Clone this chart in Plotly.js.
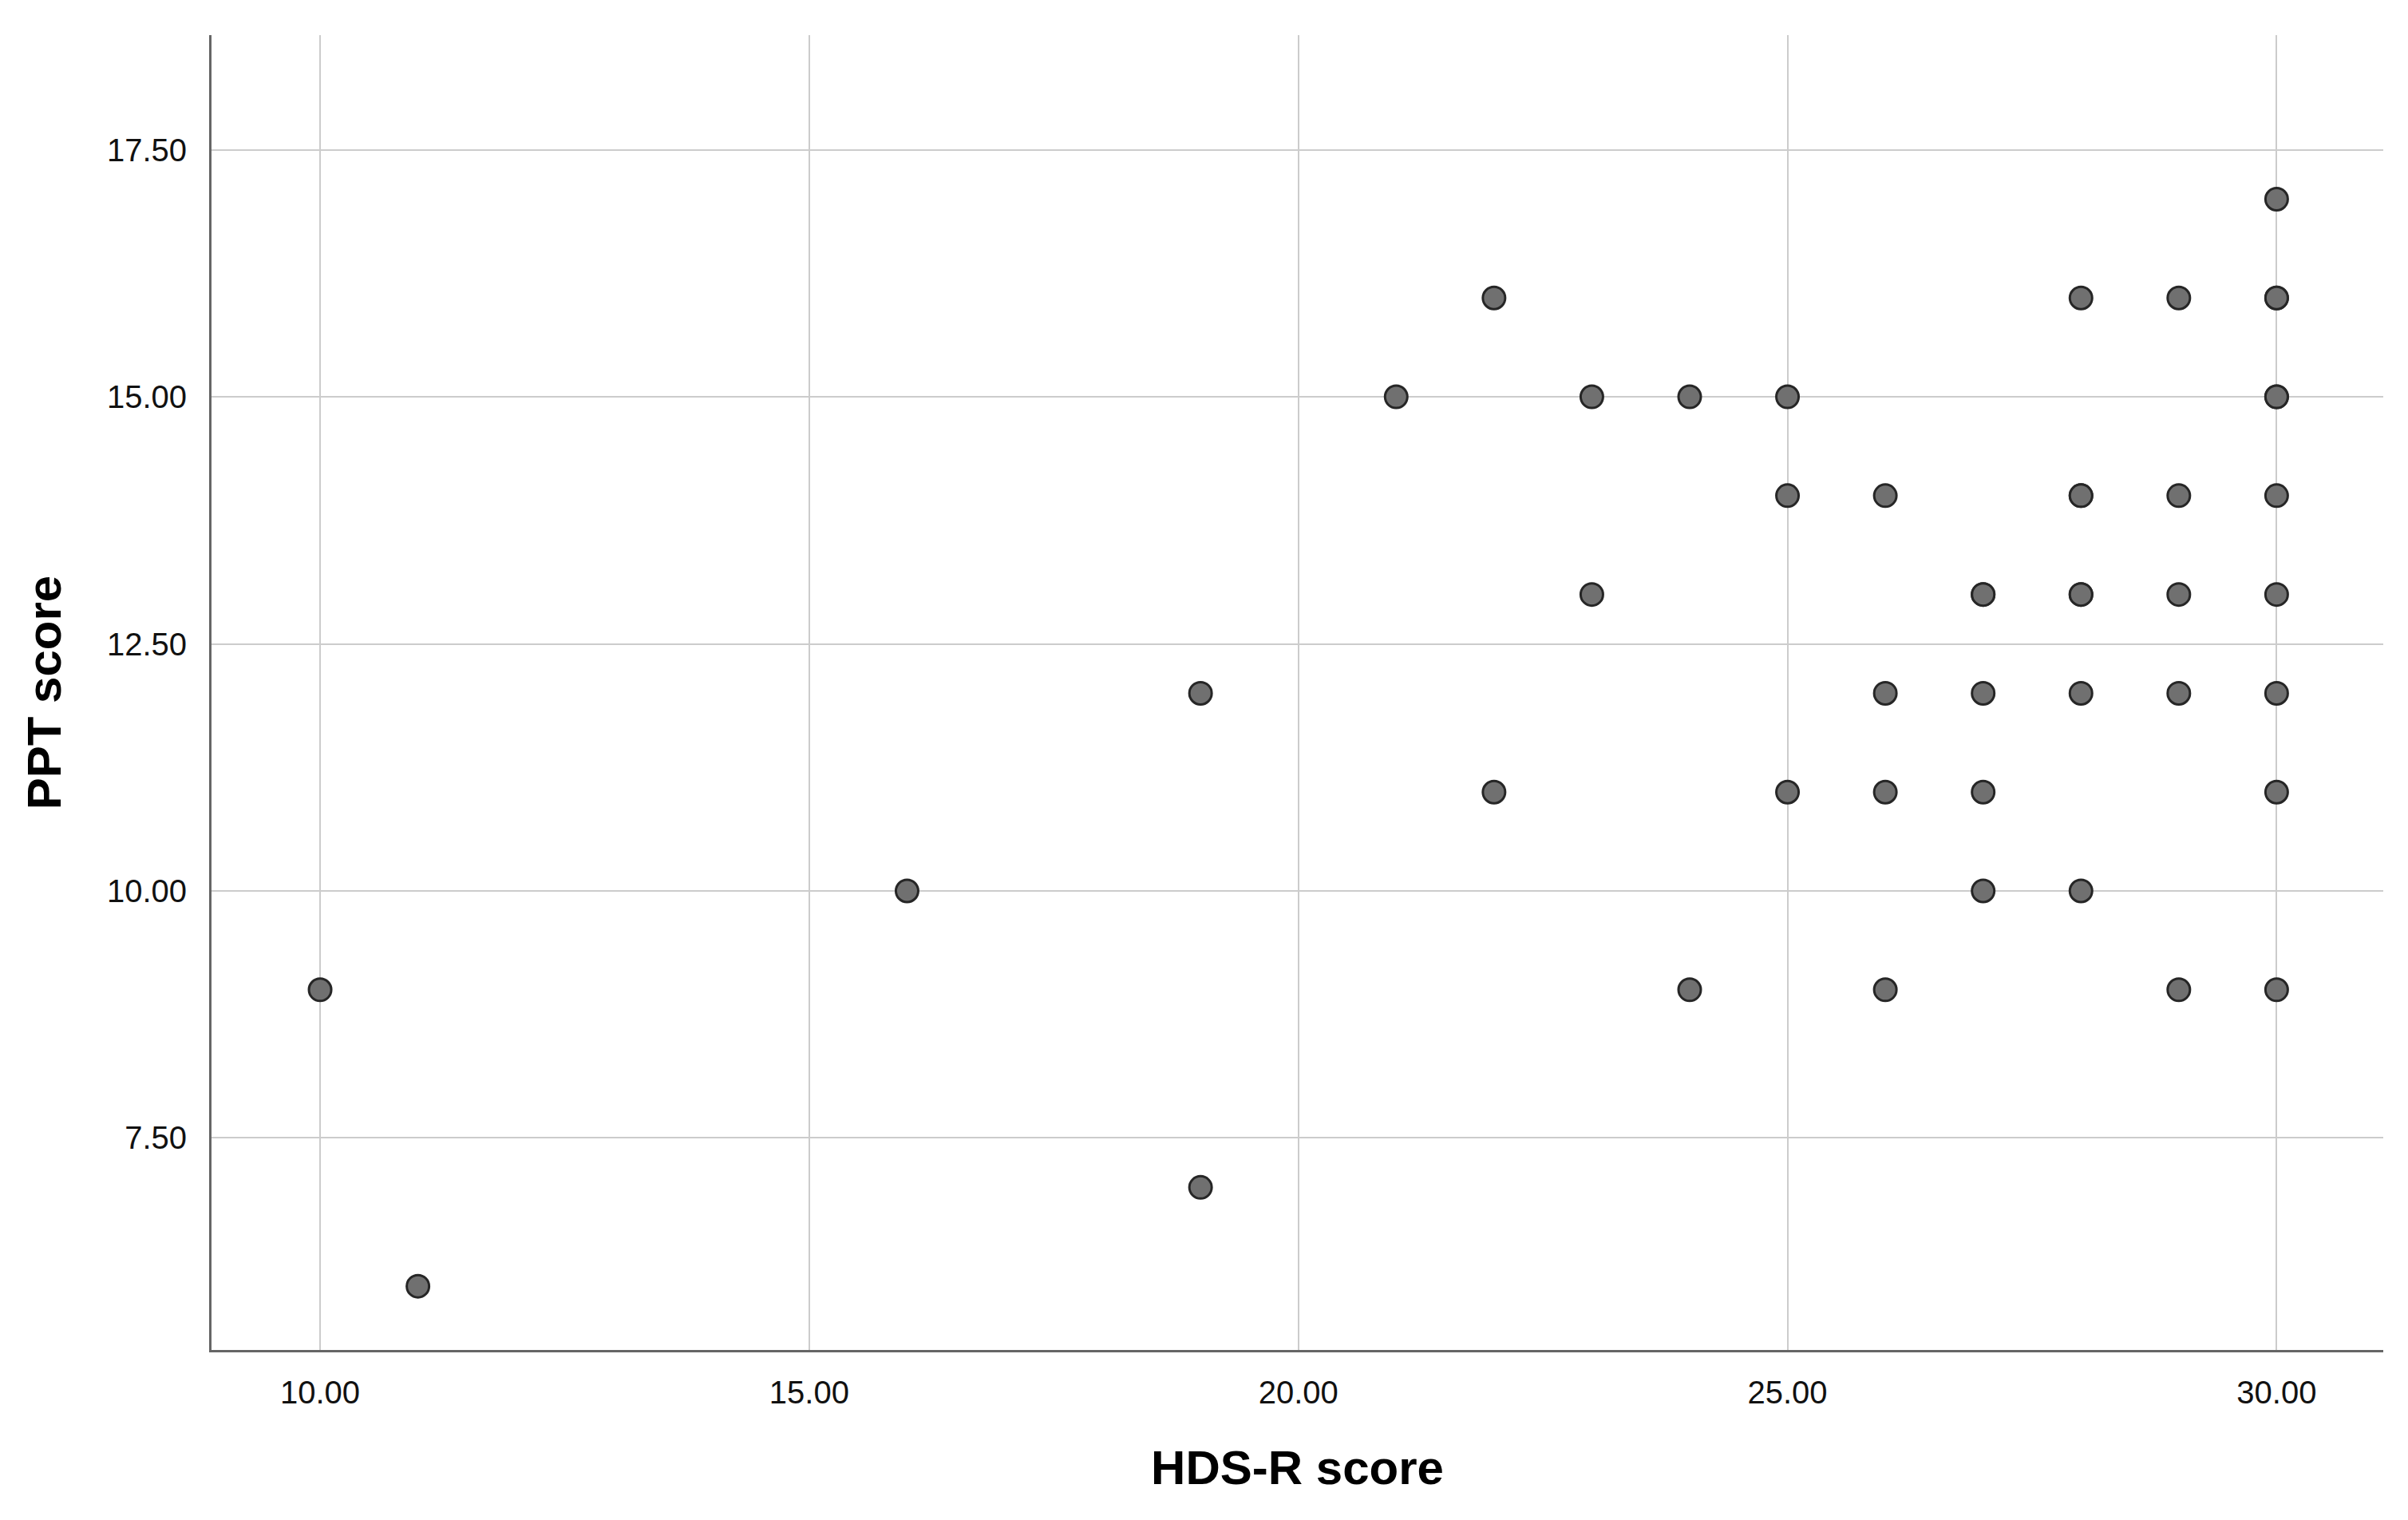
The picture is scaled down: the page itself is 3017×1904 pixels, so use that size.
<!DOCTYPE html>
<html>
<head>
<meta charset="utf-8">
<script src="https://cdn.plot.ly/plotly-3.0.1.min.js"></script>
<style>html,body{margin:0;padding:0;background:#fff;}#chart{width:3017px;height:1904px;}</style>
</head>
<body>
<div id="chart"></div>
<script>
// HDS-R score (x) and PPT score (y)
const hdsrScore = [10, 11, 16, 19, 19, 21, 22, 22, 23, 23, 24, 24,
  25, 25, 25, 26, 26, 26, 26, 27, 27, 27, 27, 27,
  28, 28, 28, 28, 28, 28, 28, 29, 29, 29, 29, 29,
  30, 30, 30, 30, 30, 30, 30, 30, 30, 30];
const pptScore = [9, 6, 10, 12, 7, 15, 16, 11, 15, 13, 15, 9,
  15, 14, 11, 14, 12, 11, 9, 13, 13, 12, 11, 10,
  16, 14, 14, 13, 13, 12, 10, 16, 14, 13, 12, 9,
  17, 16, 16, 15, 15, 14, 13, 12, 11, 9];
const xTicks = [10, 15, 20, 25, 30];
const yTicks = [7.5, 10, 12.5, 15, 17.5];

const font = 'Liberation Sans, Arial, sans-serif';

Plotly.newPlot('chart', [{
  type: 'scatter',
  mode: 'markers',
  x: hdsrScore,
  y: pptScore,
  marker: {size: 28, color: '#707070', line: {width: 3, color: '#262626'}},
  hoverinfo: 'x+y'
}], {
  width: 3017, height: 1904,
  margin: {l: 265, r: 31, t: 44, b: 213},
  paper_bgcolor: '#ffffff', plot_bgcolor: '#ffffff',
  showlegend: false,
  font: {family: font, color: '#111111'},
  xaxis: {
    range: [8.89, 31.09],
    tickvals: xTicks, tickformat: '.2f',
    tickfont: {size: 40, family: font, color: '#111111'},
    showgrid: true, gridcolor: '#cccccc', gridwidth: 2,
    showline: true, linecolor: '#666666', linewidth: 3,
    zeroline: false, ticks: '', ticklabelstandoff: 16,
    title: {text: 'HDS-R score', font: {size: 60, family: font, color: '#000000', weight: 'bold'}, standoff: 52}
  },
  yaxis: {
    range: [5.355, 18.66],
    tickvals: yTicks, tickformat: '.2f',
    tickfont: {size: 40, family: font, color: '#111111'},
    showgrid: true, gridcolor: '#cccccc', gridwidth: 2,
    showline: true, linecolor: '#666666', linewidth: 3,
    zeroline: false, ticks: '', ticklabelstandoff: 20,
    title: {text: 'PPT score', font: {size: 60, family: font, color: '#000000', weight: 'bold'}, standoff: 38}
  }
}, {displayModeBar: false, staticPlot: true});
</script>
</body>
</html>
